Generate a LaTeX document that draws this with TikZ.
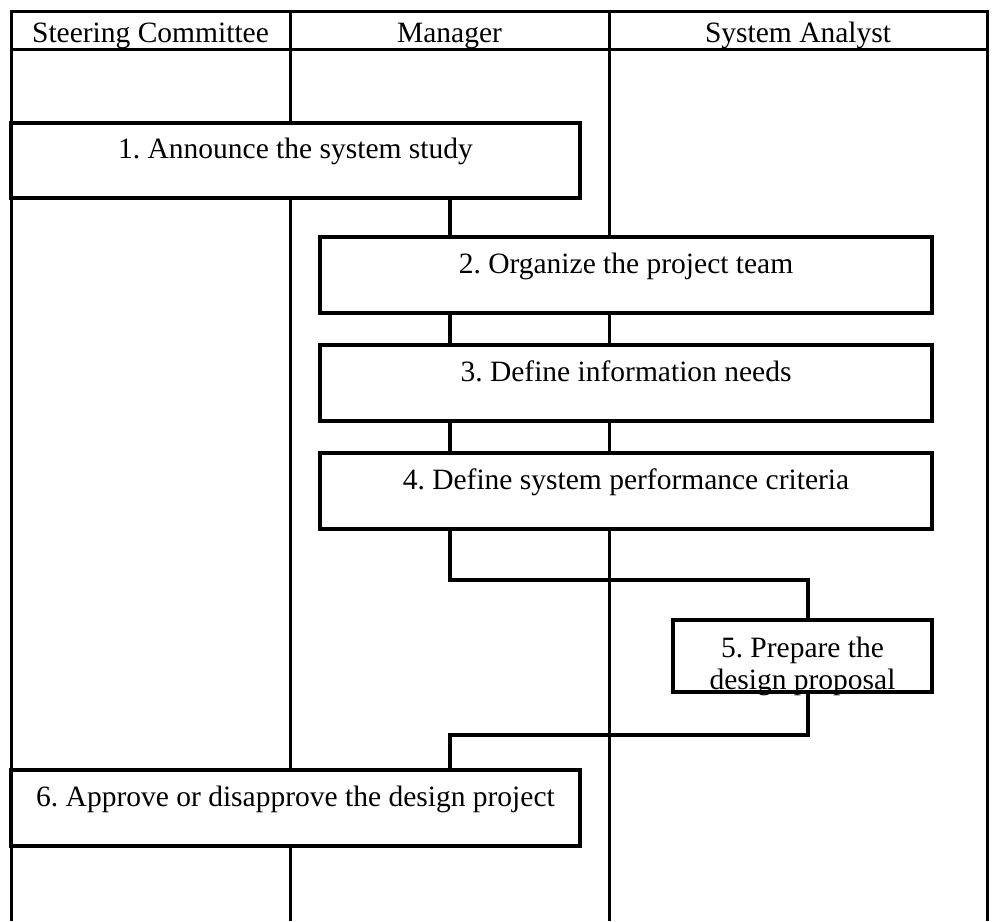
\documentclass[tikz,border=0pt]{standalone}
\usepackage{fontspec}
\setmainfont{Liberation Serif}
\frenchspacing
\begin{document}
\begin{tikzpicture}[x=1pt,y=-1pt,
  font=\fontsize{29.5}{32}\selectfont,
  lane/.style={line width=3pt},
  flow/.style={line width=3.5pt},
  head/.style={anchor=base, inner sep=0pt},
  stepbox/.style={draw, line width=3.5pt, fill=white, inner sep=0pt,
    text height=19pt, text depth=23pt}]
\useasboundingbox (0,0) rectangle (992,921);

% swimlane frame and dividers
\draw[lane] (11,921) -- (11,11) -- (987,11) -- (987,921);
\draw[lane] (11,49) -- (987,49);
\draw[lane] (290,11) -- (290,921);
\draw[lane] (609,11) -- (609,921);

% lane headings
\node[head] (hsc) at (150.5,42) {Steering Committee};
\node[head] (hmg) at (449.5,42) {Manager};
\node[head] (hsa) at (798,42) {System Analyst};

% columns used by the connectors
\coordinate (mx) at (450,0);
\coordinate (r1) at (808,580);
\coordinate (r2) at (808,735);

% process steps
\node[stepbox, minimum width=569pt, minimum height=75pt] (b1) at (295.5,160.5) {1. Announce the system study};
\node[stepbox, minimum width=612pt, minimum height=76pt] (b2) at (626,275) {2. Organize the project team};
\node[stepbox, minimum width=612pt, minimum height=76pt] (b3) at (626,383) {3. Define information needs};
\node[stepbox, minimum width=612pt, minimum height=76pt] (b4) at (626,491) {4. Define system performance criteria};
\node[stepbox, minimum width=259pt, minimum height=72pt] (b5) at (802.5,656)
  {\raisebox{-3pt}[0pt][0pt]{\begin{tabular}[t]{@{}c@{}}5. Prepare the\\design proposal\end{tabular}}};
\node[stepbox, minimum width=569pt, minimum height=76pt] (b6) at (295.5,808) {6. Approve or disapprove the design project};

% connectors between the steps
\draw[flow] (b1.south -| mx) -- (b2.north -| mx);
\draw[flow] (b2.south -| mx) -- (b3.north -| mx);
\draw[flow] (b3.south -| mx) -- (b4.north -| mx);
\draw[flow] (b4.south -| mx) |- (r1) -- (b5.north -| r1);
\draw[flow] (b5.south -| r2) -- (r2) -| (b6.north -| mx);
\end{tikzpicture}
\end{document}
